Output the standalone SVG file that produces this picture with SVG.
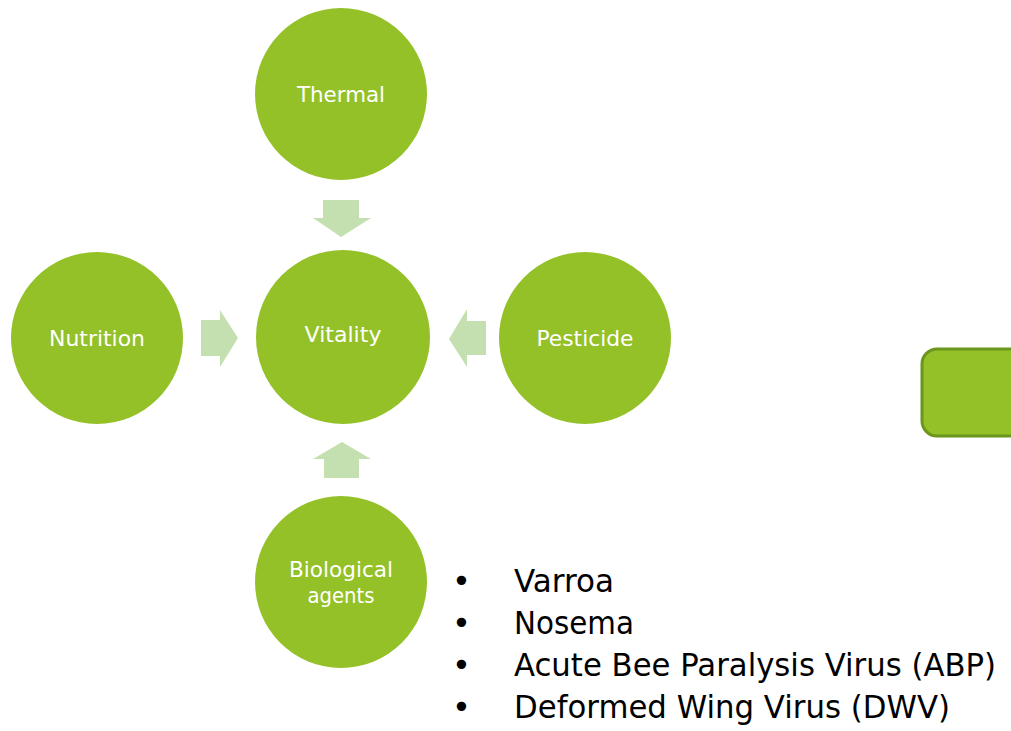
<svg xmlns="http://www.w3.org/2000/svg" width="1011" height="731" viewBox="0 0 1011 731">
<style>
.node{fill:#93c127}
.lbl{fill:#fff;font-family:"DejaVu Sans",sans-serif;font-size:22px;text-anchor:middle}
.arr{fill:#c5e0b0}
.bul{fill:#000;font-family:"DejaVu Sans",sans-serif;font-size:32px}
</style>
<rect width="1011" height="731" fill="#fff"/>
<g id="connectors">
<polygon class="arr" points="323,200 359,200 359,218 371,218 341,237 313,218 323,218"/>
<polygon class="arr" points="201,320 220,320 220,310 238,338 220,367 220,356 201,356"/>
<polygon class="arr" points="486,321 467,321 467,309 449,339 467,367 467,355 486,355"/>
<polygon class="arr" points="324,478 359,478 359,459 371,459 342,442 313,459 324,459"/>
</g>
<g id="thermal"><circle class="node" cx="341" cy="94" r="86"/><text class="lbl" x="341" y="102" textLength="88" lengthAdjust="spacingAndGlyphs">Thermal</text></g>
<g id="vitality"><circle class="node" cx="343" cy="337" r="87"/><text class="lbl" x="343" y="342" textLength="77" lengthAdjust="spacingAndGlyphs">Vitality</text></g>
<g id="nutrition"><circle class="node" cx="97" cy="338" r="86"/><text class="lbl" x="97" y="346" textLength="96" lengthAdjust="spacingAndGlyphs">Nutrition</text></g>
<g id="pesticide"><circle class="node" cx="585" cy="338" r="86"/><text class="lbl" x="585" y="346" textLength="97" lengthAdjust="spacingAndGlyphs">Pesticide</text></g>
<g id="biological"><circle class="node" cx="341" cy="582" r="86"/><text class="lbl" x="341" y="577" textLength="104" lengthAdjust="spacingAndGlyphs">Biological</text><text class="lbl" x="341" y="603" textLength="67" lengthAdjust="spacingAndGlyphs">agents</text></g>
<g id="box"><rect x="922" y="349" width="110" height="87" rx="15" fill="#93c127" stroke="#6b961d" stroke-width="3"/></g>
<g id="list">
<text class="bul" x="452" y="592">•</text><text class="bul" x="514" y="592" textLength="100" lengthAdjust="spacingAndGlyphs">Varroa</text>
<text class="bul" x="452" y="634">•</text><text class="bul" x="514" y="634" textLength="120" lengthAdjust="spacingAndGlyphs">Nosema</text>
<text class="bul" x="452" y="676">•</text><text class="bul" x="514" y="676" textLength="482" lengthAdjust="spacingAndGlyphs">Acute Bee Paralysis Virus (ABP)</text>
<text class="bul" x="452" y="718">•</text><text class="bul" x="514" y="718" textLength="436" lengthAdjust="spacingAndGlyphs">Deformed Wing Virus (DWV)</text>
</g>
</svg>
